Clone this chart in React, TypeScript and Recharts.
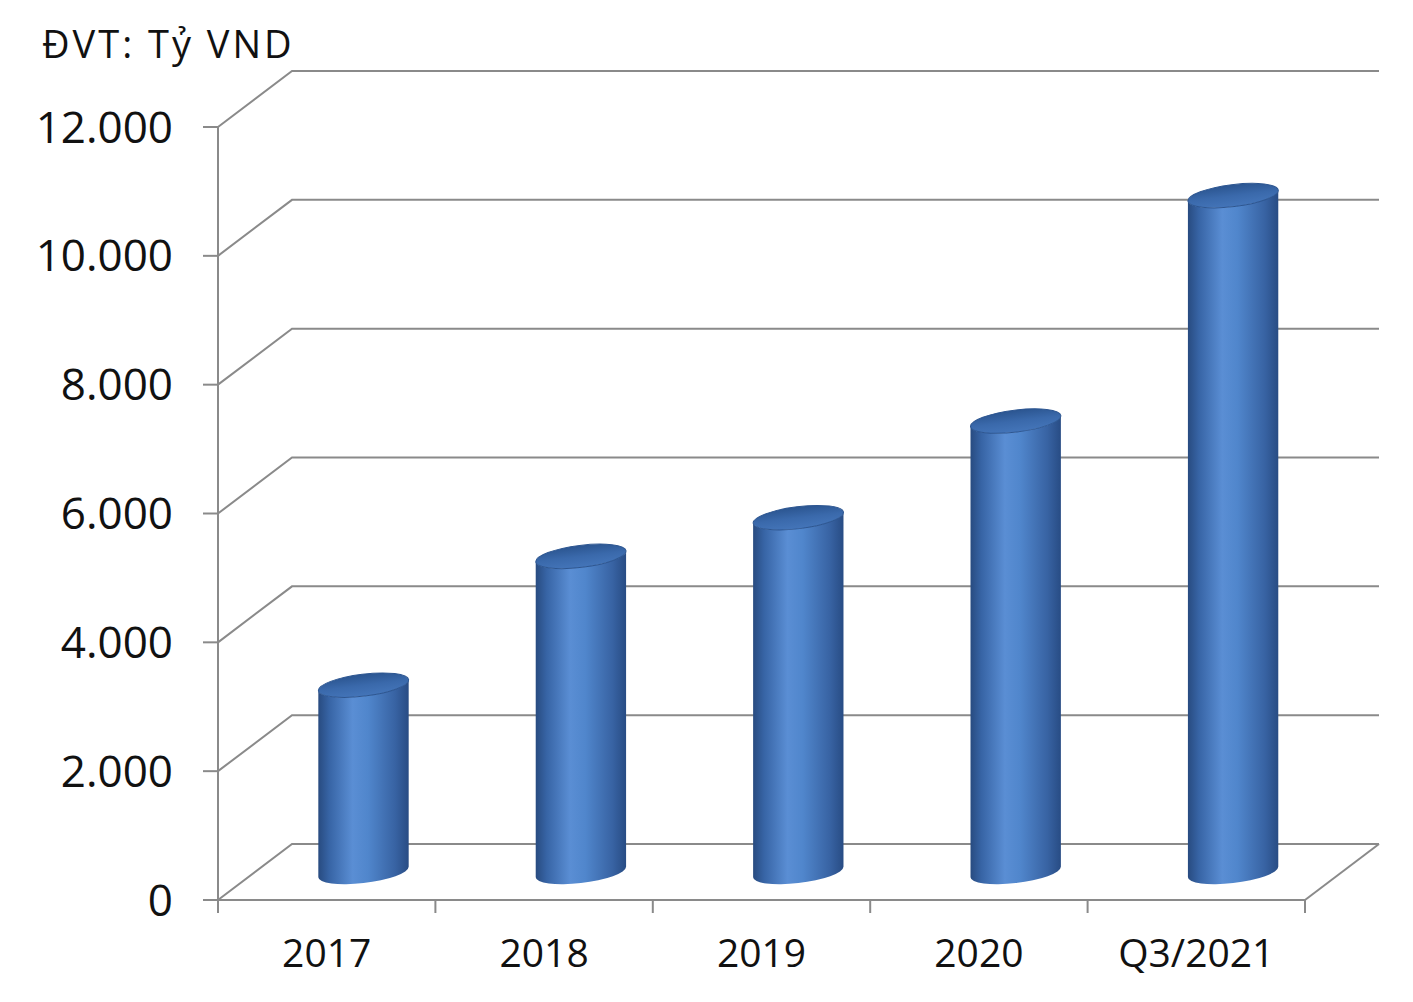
import React from 'react';
import { BarChart, Bar, XAxis, YAxis, CartesianGrid } from 'recharts';

// ---- data ----
const categories = ['2017', '2018', '2019', '2020', 'Q3/2021'];
const values = [2900, 4900, 5500, 7000, 10500];
const yTicks = [0, 2000, 4000, 6000, 8000, 10000, 12000];
const unitLabel = 'ĐVT: Tỷ VND';

const data = categories.map((c, i) => ({ cat: c, value: values[i] }));

// ---- layout / style ----
const W = 1413;
const H = 1002;
const PLOT_LEFT = 218;
const PLOT_RIGHT = 1305;
const PLOT_TOP = 127;
const PLOT_BOTTOM = 900;
const DX = 74; // depth offset of back wall
const DY = -56;
const Y_AXIS_W = 200;
const X_AXIS_H = 60;
const margin = {
  top: PLOT_TOP,
  right: W - PLOT_RIGHT,
  left: PLOT_LEFT - Y_AXIS_W,
  bottom: H - PLOT_BOTTOM - X_AXIS_H,
};
const GRID = '#8a8a8a';
const FONT = '"Open Sans", "Liberation Sans", sans-serif';
const TILT = -7;
const RY = 11;

const fmt = (v: number) => String(v).replace(/\B(?=(\d{3})+(?!\d))/g, '.');

const gridLine = (p: any) => {
  const { x1, y1, x2 } = p;
  const isFloor = Math.abs(y1 - PLOT_BOTTOM) < 1;
  return (
    <g key={p.key ?? `g-${y1}`}>
      <polyline
        points={`${x1},${y1} ${x1 + DX},${y1 + DY} ${x2 + DX},${y1 + DY}`}
        fill="none"
        stroke={GRID}
        strokeWidth={2}
      />
      {isFloor && (
        <line x1={x2} y1={y1} x2={x2 + DX} y2={y1 + DY} stroke={GRID} strokeWidth={2} />
      )}
    </g>
  );
};

const CatTick = (p: any) => {
  const { x, y, payload, index } = p;
  const band = (PLOT_RIGHT - PLOT_LEFT) / categories.length;
  const last = index === categories.length - 1;
  return (
    <g>
      <line x1={x - band / 2} y1={PLOT_BOTTOM} x2={x - band / 2} y2={PLOT_BOTTOM + 13} stroke={GRID} strokeWidth={2} />
      {last && (
        <line x1={x + band / 2} y1={PLOT_BOTTOM} x2={x + band / 2} y2={PLOT_BOTTOM + 13} stroke={GRID} strokeWidth={2} />
      )}
      <text x={x} y={y + 67} textAnchor="middle" fontSize={39} fontFamily={FONT} fill="#111">
        {payload.value}
      </text>
    </g>
  );
};

const Cylinder = (p: any) => {
  const { x, y, width, height, index } = p;
  if (width == null || height == null) return null;
  const a = width / 2;
  const b = RY;
  const th = (TILT * Math.PI) / 180;
  const R = Math.sqrt(a * a * Math.cos(th) ** 2 + b * b * Math.sin(th) ** 2);
  const yr = ((a * a - b * b) * Math.sin(th) * Math.cos(th)) / R;
  const cx = x + a + DX / 2;
  const topY = y + DY / 2;
  const botY = y + height + DY / 2;
  const bodyId = `cylBody${index}`;
  const topId = `cylTop${index}`;
  const d = [
    `M ${cx - R} ${topY - yr}`,
    `L ${cx - R} ${botY - yr}`,
    `A ${a} ${b} ${TILT} 0 0 ${cx + R} ${botY + yr}`,
    `L ${cx + R} ${topY + yr}`,
    `A ${a} ${b} ${TILT} 0 1 ${cx - R} ${topY - yr}`,
    'Z',
  ].join(' ');
  return (
    <g>
      <defs>
        <linearGradient id={bodyId} x1="0" y1="0" x2="1" y2="0">
          <stop offset="0" stopColor="#284b80" />
          <stop offset="0.12" stopColor="#3764a5" />
          <stop offset="0.38" stopColor="#5a8ed4" />
          <stop offset="0.55" stopColor="#5086cc" />
          <stop offset="0.85" stopColor="#3863a3" />
          <stop offset="1" stopColor="#284c84" />
        </linearGradient>
        <linearGradient id={topId} x1="0" y1="0" x2="0" y2="1">
          <stop offset="0" stopColor="#2b5590" />
          <stop offset="0.5" stopColor="#3a69ab" />
          <stop offset="1" stopColor="#4475b9" />
        </linearGradient>
      </defs>
      <path d={d} fill={`url(#${bodyId})`} />
      <ellipse
        cx={cx}
        cy={topY}
        rx={a}
        ry={b}
        transform={`rotate(${TILT} ${cx} ${topY})`}
        fill={`url(#${topId})`}
        stroke="#2d5691"
        strokeWidth={1}
      />
    </g>
  );
};

export default function App() {
  return (
    <div style={{ position: 'absolute', left: 0, top: 0, width: W, height: H, background: '#fff' }}>
      <BarChart width={W} height={H} data={data} margin={margin}>
        <CartesianGrid vertical={false} horizontal={gridLine} />
        <YAxis
          domain={[0, 12000]}
          ticks={yTicks}
          interval={0}
          width={Y_AXIS_W}
          tickFormatter={fmt}
          tick={{ fill: '#111', fontSize: 44, fontFamily: FONT }}
          tickSize={15}
          tickMargin={30}
          axisLine={{ stroke: GRID, strokeWidth: 2 }}
          tickLine={{ stroke: GRID, strokeWidth: 2 }}
        />
        <XAxis
          dataKey="cat"
          height={X_AXIS_H}
          interval={0}
          tickLine={false}
          tickSize={0}
          tickMargin={0}
          axisLine={{ stroke: GRID, strokeWidth: 2 }}
          tick={<CatTick />}
        />
        <Bar
          dataKey="value"
          barSize={91}
          isAnimationActive={false}
          shape={(p: any) => <Cylinder {...p} />}
        />
      </BarChart>
      <svg
        width={W}
        height={80}
        style={{ position: 'absolute', left: 0, top: 0, pointerEvents: 'none' }}
      >
        <text x={42} y={58} fontSize={38} fontFamily={FONT} fill="#111" letterSpacing={3}>
          {unitLabel}
        </text>
      </svg>
    </div>
  );
}
